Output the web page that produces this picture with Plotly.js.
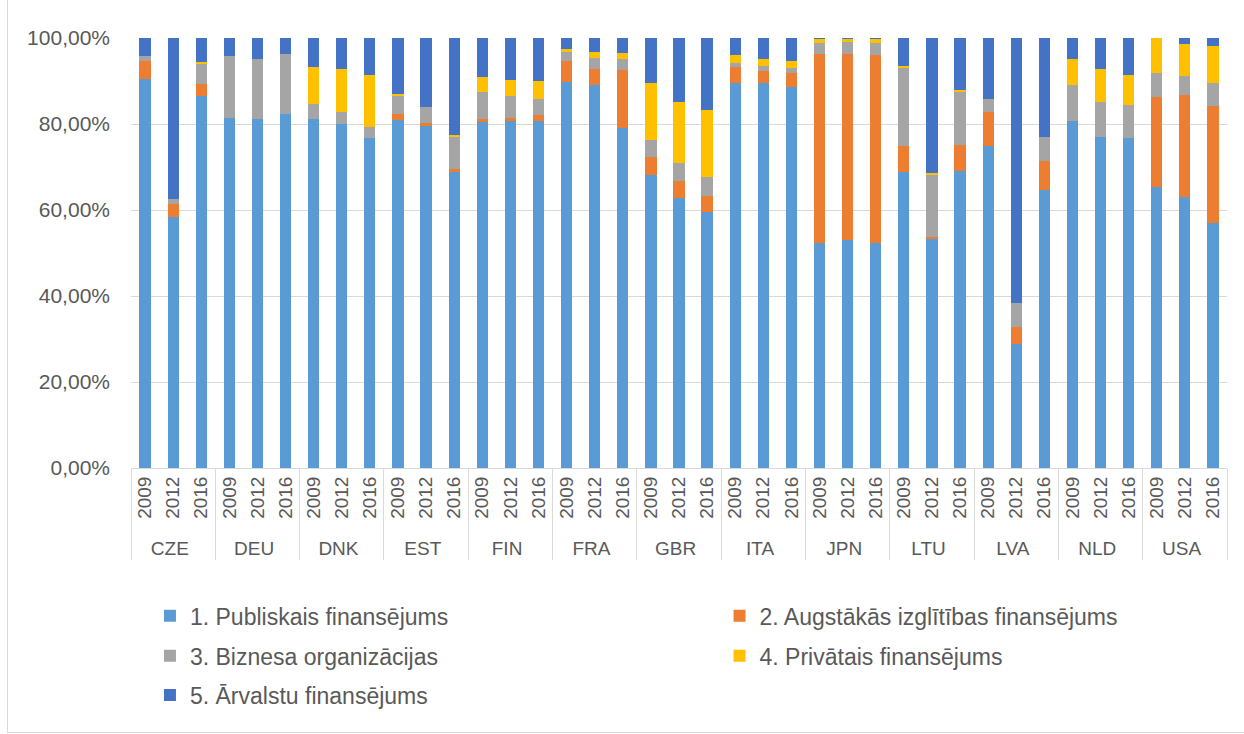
<!DOCTYPE html>
<html><head><meta charset="utf-8">
<script src="https://cdn.plot.ly/plotly-3.0.1.min.js"></script>
<style>html,body{margin:0;padding:0;background:#fff;}#wrap{position:absolute;left:7px;top:-1px;width:1250px;height:734px;border:1px solid #d9d9d9;box-sizing:border-box;}#chart{position:absolute;left:0;top:0;width:1244px;height:734px;}</style>
</head><body><div id="wrap"></div><div id="chart"></div>
<script>
const countries = ["CZE","DEU","DNK","EST","FIN","FRA","GBR","ITA","JPN","LTU","LVA","NLD","USA"];
const years = ["2009","2012","2016"];
const seriesNames = ["1. Publiskais finansējums","2. Augstākās izglītības finansējums","3. Biznesa organizācijas","4. Privātais finansējums","5. Ārvalstu finansējums"];
const colors = ["#5B9BD5","#ED7D31","#A5A5A5","#FFC000","#4472C4"];
// values per country-year in order CZE 2009, 2012, 2016, DEU 2009, ...
const publiskais = [90.5,58.4,86.4, 81.4,81.1,82.4, 81.1,80.1,76.7, 81.0,79.5,68.9, 80.4,80.8,80.6, 89.7,89.0,79.1, 68.2,62.9,59.5, 89.5,89.5,88.6, 52.3,53.0,52.3, 68.9,53.3,69.0, 75.0,28.9,64.7, 80.8,76.9,76.7, 65.3,63.1,56.9];
const augstakas = [4.1,3.1,3.0, 0.0,0.0,0.0, 0.0,0.0,0.0, 1.4,0.8,0.7, 0.8,0.7,1.6, 5.0,3.9,13.5, 4.2,3.9,3.8, 3.8,2.9,3.3, 44.0,43.3,43.7, 5.9,0.4,6.2, 7.7,3.8,6.6, 0.0,0.0,0.0, 20.9,23.6,27.2];
const biznesa = [1.1,1.0,4.6, 14.3,14.0,13.9, 3.5,2.8,2.7, 4.3,3.7,7.4, 6.3,5.1,3.7, 2.0,2.5,2.5, 3.9,4.1,4.3, 1.0,1.2,1.2, 2.6,2.8,2.8, 18.3,14.6,12.2, 3.1,5.7,5.7, 8.2,8.3,7.7, 5.6,4.4,5.4];
const privatais = [0.0,0.0,0.4, 0.0,0.0,0.0, 8.7,9.9,11.9, 0.2,0.0,0.4, 3.4,3.6,4.0, 0.8,1.3,1.5, 13.3,14.2,15.6, 1.7,1.5,1.6, 0.9,0.8,1.0, 0.3,0.4,0.5, 0.0,0.0,0.0, 6.1,7.7,7.1, 8.2,7.4,8.7];
const arvalstu = [4.3,37.5,5.6, 4.3,4.9,3.7, 6.7,7.2,8.7, 13.1,16.0,22.6, 9.1,9.8,10.1, 2.5,3.3,3.4, 10.4,14.9,16.8, 4.0,4.9,5.3, 0.2,0.1,0.2, 6.6,31.3,12.1, 14.2,61.6,23.0, 4.9,7.1,8.5, 0.0,1.5,1.8];
const yTickVals = [0,20,40,60,80,100];
const yTickText = ["0,00%","20,00%","40,00%","60,00%","80,00%","100,00%"];

const outer = [], inner = [];
countries.forEach(c => years.forEach(y => { outer.push(c); inner.push(y); }));
const allSeries = [publiskais, augstakas, biznesa, privatais, arvalstu];
const legendIds = ["legend","legend2","legend3","legend4","legend5"];
const traces = allSeries.map((vals, i) => ({
  type: "bar", name: seriesNames[i], x: [outer, inner], y: vals,
  marker: {color: colors[i]}, legend: legendIds[i],
  hovertemplate: "%{y:.1f}%<extra>" + seriesNames[i] + "</extra>"
}));
const font = {family: "Liberation Sans, Arial, sans-serif", color: "#595959"};
const legendBase = {orientation: "h", xanchor: "left", yanchor: "middle",
  font: {family: font.family, size: 23, color: "#595959"},
  bgcolor: "rgba(0,0,0,0)", itemclick: false};
const col1 = 0.0173, col2 = 0.537;
const layout = {
  width: 1244, height: 734, barmode: "stack", bargap: 0.6,
  margin: {l: 131, r: 17, t: 38, b: 266},
  paper_bgcolor: "rgba(0,0,0,0)", plot_bgcolor: "#fff",
  font: font, showlegend: true,
  xaxis: {type: "multicategory", tickangle: -90, tickfont: {size: 19, color: "#595959"},
    showline: true, linecolor: "#d9d9d9", linewidth: 1, showgrid: false,
    showdividers: true, dividercolor: "#d9d9d9", dividerwidth: 1, ticks: ""},
  yaxis: {range: [0, 100], tickvals: yTickVals, ticktext: yTickText, tickfont: {size: 21, color: "#595959"},
    showgrid: true, gridcolor: "#d9d9d9", gridwidth: 1.3, zeroline: false, showline: false, ticklen: 0, ticks: "", ticklabelstandoff: 20},
  legend: Object.assign({}, legendBase, {x: col1, y: -0.344}),
  legend2: Object.assign({}, legendBase, {x: col2, y: -0.344}),
  legend3: Object.assign({}, legendBase, {x: col1, y: -0.437}),
  legend4: Object.assign({}, legendBase, {x: col2, y: -0.437}),
  legend5: Object.assign({}, legendBase, {x: col1, y: -0.528})
};
Plotly.newPlot("chart", traces, layout, {displayModeBar: false});
</script>
</body></html>
